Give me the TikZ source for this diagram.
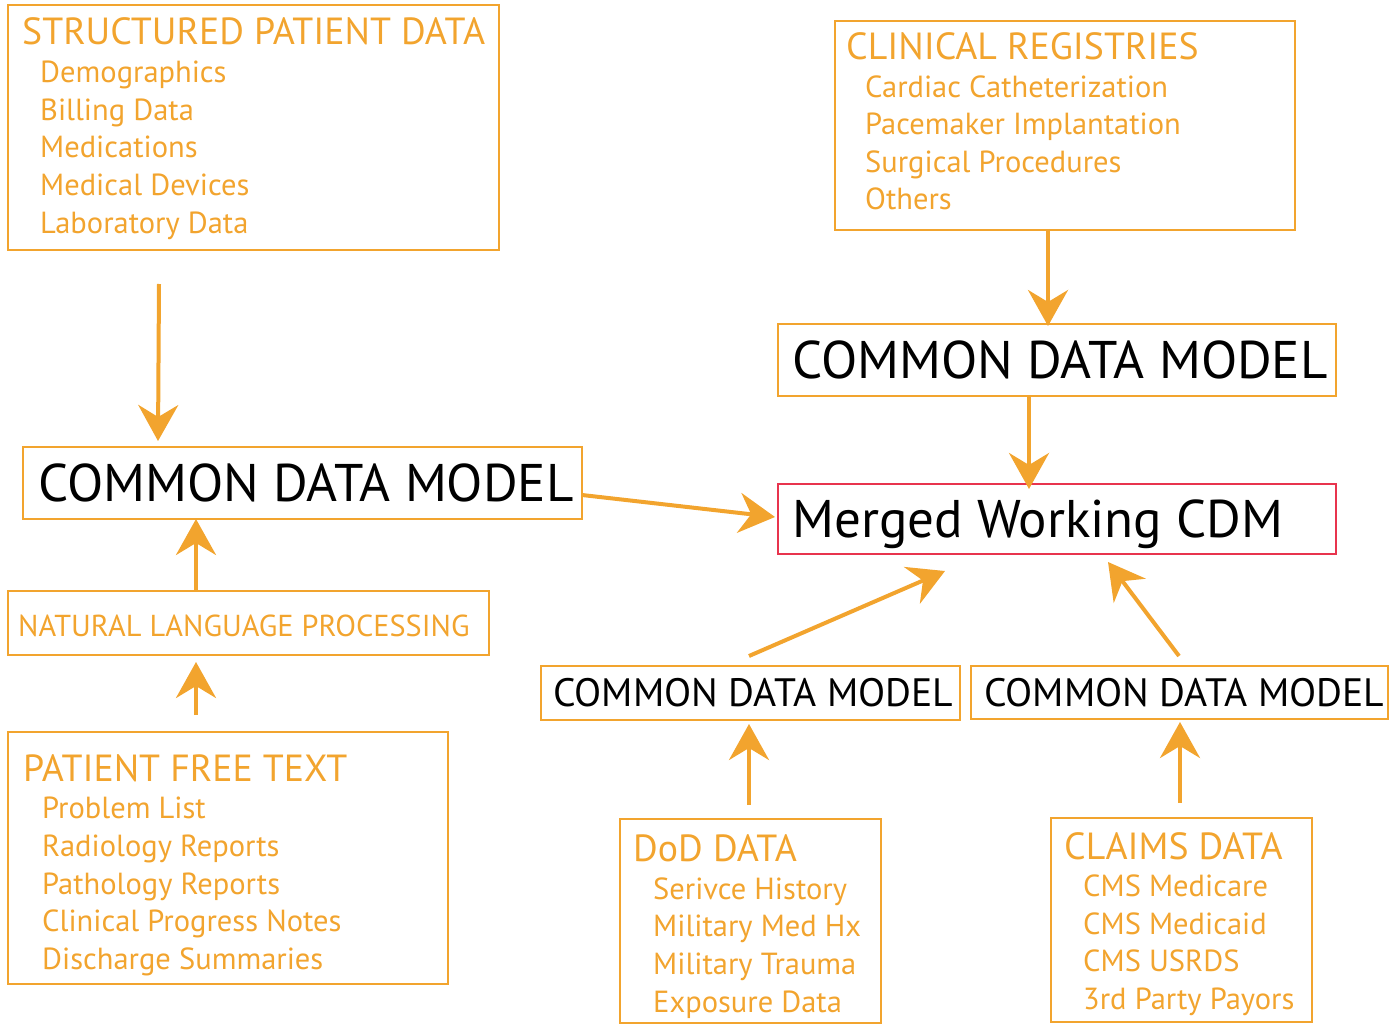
\documentclass[tikz,border=0pt]{standalone}
\usepackage{fontspec}
\setmainfont{PT Sans}
\usetikzlibrary{arrows.meta}
\definecolor{org}{HTML}{F2A42E}
\definecolor{redb}{HTML}{E8344E}
\tikzset{
  box/.style={draw=org, line width=2pt, anchor=north west, inner sep=0pt},
  ttl/.style={anchor=base west, inner sep=0pt, text=org, font=\fontsize{37.8}{38}\selectfont},
  itm/.style={anchor=base west, inner sep=0pt, text=org, font=\fontsize{30.5}{30}\selectfont},
  big/.style={anchor=base west, inner sep=0pt, text=black, font=\fontsize{53}{53}\selectfont},
  sml/.style={anchor=base west, inner sep=0pt, text=black, font=\fontsize{39.6}{40}\selectfont},
  arr/.style={draw=org, line width=4pt, -{Stealth[length=36pt, width=40pt, inset=12pt]}},
}
\begin{document}
\begin{tikzpicture}[x=1pt,y=-1pt]
\useasboundingbox (0,0) rectangle (1389,1024);
% boxes
\node[box, minimum width=491pt, minimum height=245pt] (spd) at (7,4) {};
\node[box, minimum width=460pt, minimum height=209pt] (cr) at (834,20) {};
\node[box, minimum width=559pt, minimum height=72pt] (cdmL) at (22,446) {};
\node[box, minimum width=558pt, minimum height=72pt] (cdmT) at (777,323) {};
\node[box, draw=redb, minimum width=558pt, minimum height=70pt] (mrg) at (777,483) {};
\node[box, minimum width=481pt, minimum height=64pt] (nlp) at (7,590) {};
\node[box, minimum width=440pt, minimum height=252pt] (pft) at (7,731) {};
\node[box, minimum width=419pt, minimum height=54pt] (cdmA) at (540,665) {};
\node[box, minimum width=417pt, minimum height=53pt] (cdmB) at (970,665) {};
\node[box, minimum width=261pt, minimum height=204pt] (dod) at (619,818) {};
\node[box, minimum width=261pt, minimum height=204pt] (clm) at (1050,817) {};
% texts
\node[ttl] (spdT) at (22,45) {STRUCTURED PATIENT DATA};
\node[itm] (spd1) at (40,83) {Demographics};
\node[itm] (spd2) at (40,121) {Billing Data};
\node[itm] (spd3) at (40,158) {Medications};
\node[itm] (spd4) at (40,196) {Medical Devices};
\node[itm] (spd5) at (40,234) {Laboratory Data};
\node[ttl] (crT) at (846,60) {CLINICAL REGISTRIES};
\node[itm] (cr1) at (865,98) {Cardiac Catheterization};
\node[itm] (cr2) at (865,135) {Pacemaker Implantation};
\node[itm] (cr3) at (865,173) {Surgical Procedures};
\node[itm] (cr4) at (865,210) {Others};
\node[big] (cdmLt) at (38,501) {COMMON DATA MODEL};
\node[big] (cdmTt) at (792,378) {COMMON DATA MODEL};
\node[big] (mrgt) at (792,537) {Merged Working CDM};
\node[itm, font=\fontsize{30.3}{30}\selectfont] (nlpt) at (18,636) {NATURAL LANGUAGE PROCESSING};
\node[ttl] (pftT) at (23,781) {PATIENT FREE TEXT};
\node[itm] (pft1) at (42,818) {Problem List};
\node[itm] (pft2) at (42,856) {Radiology Reports};
\node[itm] (pft3) at (42,894) {Pathology Reports};
\node[itm] (pft4) at (42,931) {Clinical Progress Notes};
\node[itm] (pft5) at (42,969) {Discharge Summaries};
\node[sml] (cdmAt) at (553,706) {COMMON DATA MODEL};
\node[sml] (cdmBt) at (984,706) {COMMON DATA MODEL};
\node[ttl] (dodT) at (633,861) {DoD DATA};
\node[itm] (dod1) at (653,899) {Serivce History};
\node[itm] (dod2) at (653,936) {Military Med Hx};
\node[itm] (dod3) at (653,974) {Military Trauma};
\node[itm] (dod4) at (653,1012) {Exposure Data};
\node[ttl] (clmT) at (1064,859) {CLAIMS DATA};
\node[itm] (clm1) at (1083,896) {CMS Medicare};
\node[itm] (clm2) at (1083,934) {CMS Medicaid};
\node[itm] (clm3) at (1083,971) {CMS USRDS};
\node[itm] (clm4) at (1083,1009) {3rd Party Payors};
% arrow end coordinates
\coordinate (a1s) at (159,284); \coordinate (a1e) at (158,441);
\coordinate (a2s) at (1048,229); \coordinate (a2e) at (1048,326);
\coordinate (a3s) at (1029,395); \coordinate (a3e) at (1029,489);
\coordinate (a4s) at (582,495); \coordinate (a4e) at (775,517);
\coordinate (a5s) at (196,590); \coordinate (a5e) at (196,519);
\coordinate (a6s) at (196,715); \coordinate (a6e) at (196,662);
\coordinate (a7s) at (749,656); \coordinate (a7e) at (945,571);
\coordinate (a8s) at (1179,656); \coordinate (a8e) at (1108,562);
\coordinate (a9s) at (749,805); \coordinate (a9e) at (749,724);
\coordinate (a10s) at (1180,803); \coordinate (a10e) at (1180,722);
\draw[arr] (a1s) -- (a1e);
\draw[arr] (a2s) -- (a2e);
\draw[arr] (a3s) -- (a3e);
\draw[arr] (a4s) -- (a4e);
\draw[arr] (a5s) -- (a5e);
\draw[arr] (a6s) -- (a6e);
\draw[arr] (a7s) -- (a7e);
\draw[arr] (a8s) -- (a8e);
\draw[arr] (a9s) -- (a9e);
\draw[arr] (a10s) -- (a10e);
\end{tikzpicture}
\end{document}
